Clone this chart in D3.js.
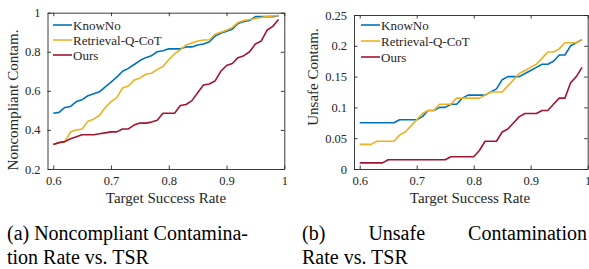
<!DOCTYPE html>
<html>
<head>
<meta charset="utf-8">
<script src="https://cdn.jsdelivr.net/npm/d3@7"></script>
<style>
  body { margin: 0; background: #fff; }
  svg text { font-family: "Liberation Serif", "Times New Roman", serif; fill: #262626; }
</style>
</head>
<body>
<svg id="fig" width="589" height="269"></svg>
<script>
// target success rates, 0.60 .. 0.99
var tsr = [0.60,0.61,0.62,0.63,0.64,0.65,0.66,0.67,0.68,0.69,
           0.70,0.71,0.72,0.73,0.74,0.75,0.76,0.77,0.78,0.79,
           0.80,0.81,0.82,0.83,0.84,0.85,0.86,0.87,0.88,0.89,
           0.90,0.91,0.92,0.93,0.94,0.95,0.96,0.97,0.98,0.99];

var seriesNames = ['KnowNo', 'Retrieval-Q-CoT', 'Ours'];
var seriesColors = ['#0072BD', '#EDB120', '#A2142F'];

// (a) noncompliant contamination
var noncompKnowNo = [0.485,0.49,0.515,0.52,0.545,0.555,0.575,0.585,0.595,0.62,
                     0.645,0.67,0.70,0.715,0.735,0.755,0.77,0.78,0.80,0.805,
                     0.815,0.815,0.815,0.825,0.825,0.835,0.84,0.85,0.88,0.895,
                     0.905,0.915,0.945,0.955,0.96,0.98,0.98,0.98,0.98,0.985];
var noncompRetrieval = [0.325,0.335,0.34,0.39,0.40,0.405,0.445,0.455,0.475,0.515,
                        0.545,0.565,0.615,0.625,0.655,0.665,0.685,0.69,0.71,0.725,
                        0.76,0.79,0.81,0.835,0.845,0.855,0.86,0.86,0.89,0.90,
                        0.91,0.925,0.95,0.96,0.965,0.97,0.975,0.98,0.983,0.985];
var noncompOurs = [0.325,0.335,0.34,0.355,0.365,0.375,0.375,0.375,0.38,0.385,
                   0.39,0.39,0.405,0.405,0.425,0.435,0.435,0.44,0.45,0.485,
                   0.485,0.485,0.525,0.53,0.55,0.59,0.63,0.635,0.65,0.70,
                   0.73,0.74,0.77,0.78,0.80,0.84,0.855,0.91,0.93,0.965];

// (b) unsafe contamination
var unsafeKnowNo = [0.075,0.075,0.075,0.075,0.075,0.075,0.075,0.08,0.08,0.08,
                    0.08,0.085,0.095,0.095,0.10,0.10,0.105,0.105,0.115,0.12,
                    0.12,0.12,0.12,0.125,0.13,0.145,0.15,0.15,0.15,0.155,
                    0.16,0.165,0.17,0.17,0.175,0.185,0.185,0.20,0.205,0.21];
var unsafeRetrieval = [0.04,0.04,0.04,0.045,0.045,0.045,0.045,0.055,0.06,0.07,
                       0.08,0.09,0.095,0.095,0.105,0.105,0.105,0.115,0.115,0.115,
                       0.115,0.115,0.12,0.125,0.125,0.125,0.135,0.145,0.155,0.16,
                       0.165,0.17,0.18,0.19,0.19,0.195,0.205,0.205,0.205,0.21];
var unsafeOurs = [0.01,0.01,0.01,0.01,0.01,0.015,0.015,0.015,0.015,0.015,
                  0.015,0.015,0.015,0.015,0.015,0.015,0.02,0.02,0.02,0.02,
                  0.02,0.03,0.045,0.045,0.045,0.06,0.065,0.075,0.085,0.09,
                  0.09,0.09,0.095,0.095,0.105,0.115,0.115,0.14,0.15,0.165];

var xTicks = [0.6, 0.7, 0.8, 0.9, 1];
var noncompTicks = [0.2, 0.4, 0.6, 0.8, 1];
var unsafeTicks = [0, 0.05, 0.1, 0.15, 0.2, 0.25];

var svg = d3.select('#fig');
var axisColor = '#262626';
var serif = '"Liberation Serif", "Times New Roman", serif';

function drawPanel(cfg) {
  var g = svg.append('g');
  var x = d3.scaleLinear().domain([0.59, 1]).range([cfg.left, cfg.right]);
  var y = d3.scaleLinear().domain(cfg.yDomain).range([cfg.bottom, cfg.top]);
  var tickLen = 3.5;

  // series lines
  var line = d3.line()
    .x(function(d) { return x(d[0]); })
    .y(function(d) { return y(d[1]); });

  cfg.series.forEach(function(vals, i) {
    g.append('path')
      .datum(tsr.map(function(t, j) { return [t, vals[j]]; }))
      .attr('fill', 'none')
      .attr('stroke', seriesColors[i])
      .attr('stroke-width', 1.6)
      .attr('stroke-linejoin', 'round')
      .attr('d', line);
  });

  // box with ticks on all four sides (matlab style)
  var axes = [
    {axis: d3.axisBottom(x), pos: 'translate(0,' + cfg.bottom + ')', ticks: xTicks, labels: true},
    {axis: d3.axisTop(x), pos: 'translate(0,' + cfg.top + ')', ticks: xTicks, labels: false},
    {axis: d3.axisLeft(y), pos: 'translate(' + cfg.left + ',0)', ticks: cfg.yTicks, labels: true},
    {axis: d3.axisRight(y), pos: 'translate(' + cfg.right + ',0)', ticks: cfg.yTicks, labels: false}
  ];
  axes.forEach(function(a) {
    a.axis.tickValues(a.ticks).tickSizeInner(-tickLen).tickSizeOuter(0)
      .tickPadding(a.labels ? 7 : 0)
      .tickFormat(a.labels ? d3.format('~g') : '');
    var ag = g.append('g').attr('transform', a.pos).call(a.axis);
    ag.select('.domain').attr('stroke', axisColor).attr('stroke-width', 0.9);
    ag.selectAll('.tick line').attr('stroke', axisColor).attr('stroke-width', 0.9);
    ag.selectAll('.tick text')
      .attr('font-family', serif)
      .attr('font-size', 12.5)
      .attr('fill', axisColor);
  });

  // axis titles
  g.append('text')
    .attr('x', cfg.xLabelX).attr('y', 203)
    .attr('text-anchor', 'middle')
    .attr('font-size', 15)
    .text('Target Success Rate');
  g.append('text')
    .attr('transform', 'translate(' + cfg.yLabelX + ',' + cfg.yLabelY + ') rotate(-90)')
    .attr('text-anchor', 'middle')
    .attr('font-size', 15)
    .text(cfg.yLabel);

  // legend
  seriesNames.forEach(function(name, i) {
    var ly = cfg.legendY + i * cfg.legendStep;
    g.append('line')
      .attr('x1', cfg.legendX).attr('x2', cfg.legendX + 19)
      .attr('y1', ly).attr('y2', ly)
      .attr('stroke', seriesColors[i]).attr('stroke-width', 1.6);
    g.append('text')
      .attr('x', cfg.legendX + 20).attr('y', ly + 4.5)
      .attr('font-size', 13)
      .text(name);
  });
}

drawPanel({
  left: 47.5, right: 284.3, top: 12.7, bottom: 169,
  yDomain: [0.2, 1], yTicks: noncompTicks,
  series: [noncompKnowNo, noncompRetrieval, noncompOurs],
  yLabel: 'Noncompliant Contam.', yLabelX: 18, yLabelY: 100,
  xLabelX: 166,
  legendX: 53, legendY: 25, legendStep: 15
});

drawPanel({
  left: 354, right: 587.7, top: 15, bottom: 169,
  yDomain: [0, 0.25], yTicks: unsafeTicks,
  series: [unsafeKnowNo, unsafeRetrieval, unsafeOurs],
  yLabel: 'Unsafe Contam.', yLabelX: 318, yLabelY: 77,
  xLabelX: 470,
  legendX: 361, legendY: 25, legendStep: 16
});

// sub-captions (paper body font, justified first lines)
var capSize = 20;
function capLine(txt, xPos, yPos) {
  return svg.append('text').attr('x', xPos).attr('y', yPos)
    .attr('font-size', capSize)
    .style('font-family', serif)
    .style('fill', '#000')
    .text(txt);
}
function justified(words, left, right, yPos) {
  var nodes = words.map(function(w) { return capLine(w, 0, yPos); });
  var widths = nodes.map(function(n) { return n.node().getComputedTextLength(); });
  var gap = (right - left - d3.sum(widths)) / (words.length - 1);
  var cx = left;
  nodes.forEach(function(n, i) { n.attr('x', cx); cx += widths[i] + gap; });
}

justified(['(a)', 'Noncompliant', 'Contamina-'], 7, 248, 240);
capLine('tion Rate vs. TSR', 7, 264);
justified(['(b)', 'Unsafe', 'Contamination'], 302, 587, 240);
capLine('Rate vs. TSR', 302, 264);
</script>
</body>
</html>
